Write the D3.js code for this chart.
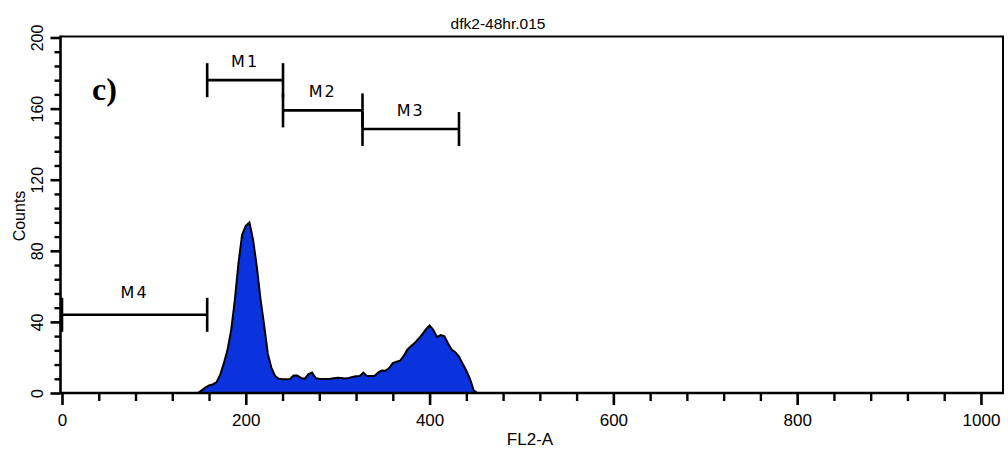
<!DOCTYPE html>
<html>
<head>
<meta charset="utf-8">
<script src="https://cdn.jsdelivr.net/npm/d3@7/dist/d3.min.js"></script>
<style>
html,body{margin:0;padding:0;background:#fff;}
svg{display:block;}
</style>
</head>
<body>
<svg id="chart" width="1008" height="450"></svg>
<script>
// ---- data ----
const channels = [148,152,156,160,164,168,172,176,180,184,188,192,196,200,204,208,212,216,220,224,228,232,236,240,244,248,252,256,260,264,268,272,276,280,284,288,292,296,300,304,308,312,316,320,324,328,332,336,340,344,348,352,356,360,364,368,372,376,380,384,388,392,396,400,404,408,412,416,420,424,428,432,436,440,444,448,452];
const counts   = [0,1.5,3,4.3,4.8,6,10,16.5,24,35,52,73,89,94,96,86,71,53,38,22,14,9.5,8,7.7,7.7,7.8,9.8,9.8,8.5,8,10.5,11.5,8.5,7.9,7.9,7.9,8,8.3,8.6,8.4,8.2,8.5,9,9.4,9.6,11.5,9.5,9.5,9.6,11.5,12.6,12.5,14,16.8,17.6,18.2,21,24.5,26.5,28.2,30.5,33,35.8,38,35.5,31.5,32.6,32,28,24.5,23,20.5,16.5,12.5,8,1.5,0];
const markerNames = ["M1","M2","M3","M4"];
const markerStart = [158,240.5,327,0];
const markerEnd   = [240.5,327,432,158];
const markerLevel = [176,159,148.5,44];
const xMajorTicks = [0,200,400,600,800,1000];
const yMajorTicks = [0,40,80,120,160,200];
const title = "dfk2-48hr.015";
const xLabel = "FL2-A";
const yLabel = "Counts";
const panelLabel = "c)";

(function(){
// ---- layout ----
const svg = d3.select("#chart");
const x = d3.scaleLinear().domain([0,1024]).range([62,1003]);
const y = d3.scaleLinear().domain([0,200]).range([393,37.5]);
const pL = 60.5, pR = 1003, pT = 36.5, pB = 393;

// histogram
const data = channels.map((c,i)=>({c, v:counts[i]}));
const area = d3.area().x(d=>x(d.c)).y0(y(0)).y1(d=>y(d.v)).curve(d3.curveLinear);
svg.append("path").datum(data).attr("d",area)
  .attr("fill","#0a33de").attr("stroke","#000").attr("stroke-width",2).attr("stroke-linejoin","miter");

// frame top/right
svg.append("path").attr("d",`M${pL},${pT}H${pR}V${pB}`)
  .attr("fill","none").attr("stroke","#000").attr("stroke-width",2);

// x axis
const xMinor = d3.range(0,1001,40).filter(v=>v%200!==0);
const gx = svg.append("g").attr("transform",`translate(0,${pB})`);
gx.append("g").call(d3.axisBottom(x).tickValues(xMinor).tickSize(8).tickFormat(""))
  .call(g=>g.select(".domain").remove())
  .call(g=>g.selectAll("line").attr("stroke-width",2.4));
gx.append("g").call(d3.axisBottom(x).tickValues(xMajorTicks).tickSize(12).tickFormat(d3.format("d")).tickPadding(9))
  .call(g=>g.select(".domain").remove())
  .call(g=>g.selectAll("line").attr("stroke-width",2.6))
  .call(g=>g.selectAll("text").attr("font-family","'Liberation Sans',Arial,sans-serif").attr("font-size",17).attr("fill","#000"));
svg.append("line").attr("x1",pL-1.2).attr("x2",pR+1).attr("y1",pB).attr("y2",pB)
  .attr("stroke","#000").attr("stroke-width",2.6);

// y axis
const yMinor = d3.range(0,201,8).filter(v=>v%40!==0);
const gy = svg.append("g").attr("transform",`translate(${pL},0)`);
gy.append("g").call(d3.axisLeft(y).tickValues(yMinor).tickSize(6).tickFormat(""))
  .call(g=>g.select(".domain").remove())
  .call(g=>g.selectAll("line").attr("stroke-width",2.4));
gy.append("g").call(d3.axisLeft(y).tickValues(yMajorTicks).tickSize(10).tickFormat(d3.format("d")))
  .call(g=>g.select(".domain").remove())
  .call(g=>g.selectAll("line").attr("stroke-width",2.6))
  .call(g=>g.selectAll("text")
    .attr("font-family","'Liberation Sans',Arial,sans-serif").attr("font-size",16).attr("fill","#000")
    .attr("x",null).attr("dy",null)
    .attr("text-anchor","middle")
    .attr("transform","translate(-18,0) rotate(-90)"));
svg.append("line").attr("x1",pL).attr("x2",pL).attr("y1",pT-1).attr("y2",pB+1.3)
  .attr("stroke","#000").attr("stroke-width",2.6);

// titles
svg.append("text").attr("x",498).attr("y",29).attr("text-anchor","middle")
  .attr("font-family","'Liberation Sans',Arial,sans-serif").attr("font-size",15.5).text(title);
svg.append("text").attr("x",530).attr("y",445).attr("text-anchor","middle")
  .attr("font-family","'Liberation Sans',Arial,sans-serif").attr("font-size",17).text(xLabel);
svg.append("text").attr("transform","translate(25,216) rotate(-90)").attr("text-anchor","middle")
  .attr("font-family","'Liberation Sans',Arial,sans-serif").attr("font-size",16).text(yLabel);
svg.append("text").attr("x",92).attr("y",100)
  .attr("font-family","'Liberation Serif','Times New Roman',serif").attr("font-weight","bold").attr("font-size",32).text(panelLabel);

// markers
const cap = 17;
markerNames.forEach((name,i)=>{
  const g = svg.append("g").attr("stroke","#000").attr("stroke-width",2.6).attr("fill","none");
  const x0 = x(markerStart[i]), x1 = x(markerEnd[i]), yy = y(markerLevel[i]);
  g.append("line").attr("x1",x0).attr("x2",x1).attr("y1",yy).attr("y2",yy);
  g.append("line").attr("x1",x0).attr("x2",x0).attr("y1",yy-cap).attr("y2",yy+cap);
  g.append("line").attr("x1",x1).attr("x2",x1).attr("y1",yy-cap).attr("y2",yy+cap);
  svg.append("text").attr("x",(x0+x1)/2).attr("y",yy-(i===3?17:13)).attr("text-anchor","middle")
    .attr("font-family","'DejaVu Sans',sans-serif").attr("font-size",16).attr("letter-spacing",2)
    .text(name);
});
})();
</script>
</body>
</html>
